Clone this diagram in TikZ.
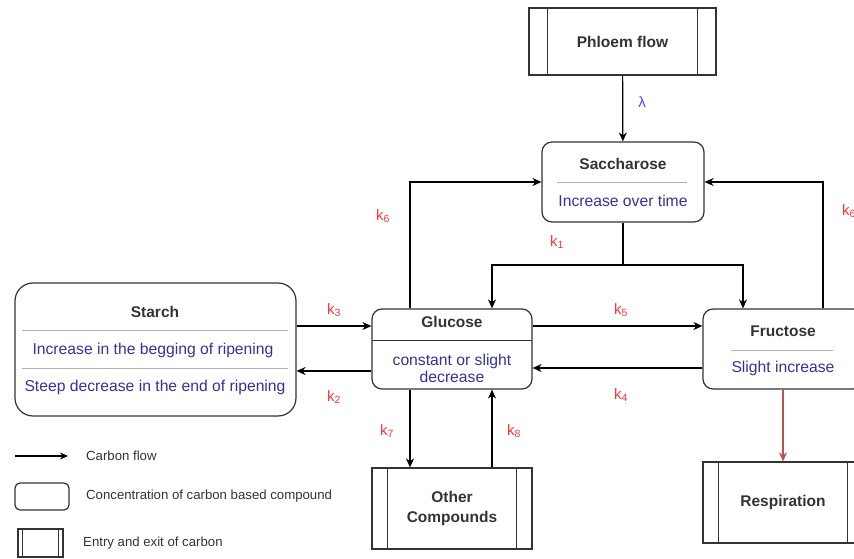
\documentclass[tikz,border=0pt]{standalone}
\usepackage{fontspec}
\setmainfont{Liberation Sans}
\usetikzlibrary{arrows.meta}
\definecolor{txtdark}{HTML}{333333}
\definecolor{txtblue}{HTML}{333399}
\definecolor{lamblue}{HTML}{4C4CFF}
\definecolor{kred}{HTML}{FF3333}
\definecolor{sepgray}{HTML}{B3B3B3}
\definecolor{resred}{HTML}{B85450}
\tikzset{
  box/.style={draw=txtdark, line width=1.2pt, rounded corners=10pt, inner sep=0pt},
  procbox/.style={draw=txtdark, line width=1.2pt, inner sep=0pt, font=\fontsize{15.5}{20}\selectfont\bfseries, text=txtdark, align=center},
  title/.style={font=\fontsize{15.5}{18}\selectfont\bfseries, text=txtdark, inner sep=0pt},
  info/.style={font=\fontsize{15.7}{18}\selectfont, text=txtblue, inner sep=0pt, align=center},
  klabel/.style={font=\fontsize{15}{18}\selectfont, text=kred, inner sep=0pt},
  sep/.style={draw=sepgray, line width=1pt},
  flow/.style={draw=black, line width=1.2pt, -{Stealth[length=9pt,width=8pt]}},
  legtext/.style={font=\fontsize{13.2}{15}\selectfont, text=txtdark, anchor=west, inner sep=0pt},
}
\begin{document}
\begin{tikzpicture}[x=1pt,y=-1pt]
\useasboundingbox (0,0) rectangle (854,559);
% boxes
\node[procbox, minimum width=187pt, minimum height=67pt] (phloem) at (622.5,41.5) {Phloem flow};
\draw[draw=txtdark, line width=1.2pt] ([xshift=19pt]phloem.north west) -- ([xshift=19pt]phloem.south west);
\draw[draw=txtdark, line width=1.2pt] ([xshift=-19pt]phloem.north east) -- ([xshift=-19pt]phloem.south east);

\node[box, minimum width=162pt, minimum height=80pt] (sac) at (623,182) {};
\node[title] (sact) at (623,164) {Saccharose};
\draw[sep] (557,182) -- (687,182);
\node[info] (saci) at (623,201) {Increase over time};

\node[box, rounded corners=18pt, minimum width=281pt, minimum height=133pt] (starch) at (155.5,349.5) {};
\node[title] (starcht) at (155,312) {Starch};
\draw[sep] (22,330) -- (288,330);
\node[info] (starch1) at (153,350) {Increase in the begging of ripening};
\draw[sep] (22,368) -- (288,368);
\node[info] (starch2) at (155,387) {Steep decrease in the end of ripening};

\node[box, minimum width=160pt, minimum height=80pt] (glucose) at (452,349) {};
\node[title] (glut) at (452,322) {Glucose};
\draw[draw=txtdark, line width=1pt] (372,340) -- (532,340);
\node[info] (glui) at (452,368.5) {constant or slight\\[-0.5pt]decrease};

\node[box, minimum width=160pt, minimum height=80pt] (fructose) at (783,349) {};
\node[title] (frut) at (783,331) {Fructose};
\draw[sep] (731,350) -- (833,350);
\node[info] (frui) at (783,368) {Slight increase};

\node[procbox, minimum width=160pt, minimum height=81pt] (other) at (452,508.5) {Other\\Compounds};
\draw[draw=txtdark, line width=1.2pt] ([xshift=16pt]other.north west) -- ([xshift=16pt]other.south west);
\draw[draw=txtdark, line width=1.2pt] ([xshift=-16pt]other.north east) -- ([xshift=-16pt]other.south east);

\node[procbox, minimum width=160pt, minimum height=81pt] (resp) at (783,502.5) {Respiration};
\draw[draw=txtdark, line width=1.2pt] ([xshift=16pt]resp.north west) -- ([xshift=16pt]resp.south west);
\draw[draw=txtdark, line width=1.2pt] ([xshift=-16pt]resp.north east) -- ([xshift=-16pt]resp.south east);

% connectors
\draw[flow] (phloem) -- (sac);
\draw[flow] ([yshift=23.5pt]starch.east) -- ([yshift=23pt]glucose.west);
\draw[flow] ([yshift=-22pt]glucose.west) -- ([yshift=-21.5pt]starch.east);
\draw[flow] ([yshift=23pt]glucose.east) -- ([yshift=23pt]fructose.west);
\draw[flow] ([yshift=-19pt]fructose.west) -- ([yshift=-19pt]glucose.east);
\coordinate (split) at (623,265);
\draw[draw=black, line width=1.2pt] (sac.south) -- (split);
\draw[flow] (split) -| ([xshift=40pt]glucose.north);
\draw[flow] (split) -| ([xshift=-40pt]fructose.north);
\draw[flow] ([xshift=-42pt]glucose.north) |- (sac.west);
\draw[flow] ([xshift=40pt]fructose.north) |- (sac.east);
\draw[flow] ([xshift=-42pt]glucose.south) -- ([xshift=-42pt]other.north);
\draw[flow] ([xshift=40pt]other.north) -- ([xshift=40pt]glucose.south);
\draw[flow, draw=resred] (fructose.south) -- (resp.north);

% labels
\node[font=\fontsize{15}{18}\selectfont, text=lamblue, inner sep=0pt] (lam) at (642,102) {λ};
\node[klabel] (k3) at (334,310) {k\textsubscript{3}};
\node[klabel] (k2) at (334,397) {k\textsubscript{2}};
\node[klabel] (k5) at (621,310) {k\textsubscript{5}};
\node[klabel] (k4) at (621,395) {k\textsubscript{4}};
\node[klabel] (k1) at (557,242) {k\textsubscript{1}};
\node[klabel] (k6a) at (383,216) {k\textsubscript{6}};
\node[klabel, anchor=west] (k6b) at (842,211) {k\textsubscript{6}};
\node[klabel] (k7) at (387,431) {k\textsubscript{7}};
\node[klabel] (k8) at (514,431) {k\textsubscript{8}};

% legend
\coordinate (la) at (15,456);
\coordinate (lb) at (68,456);
\draw[draw=black, line width=1.2pt, -{Stealth[length=8pt,width=7pt]}] (la) -- (lb);
\node[legtext] (l1) at (86,456) {Carbon flow};
\node[draw=txtdark, line width=1.2pt, rounded corners=5pt, minimum width=54pt, minimum height=27pt, inner sep=0pt] (lbox) at (42,496.5) {};
\node[legtext] (l2) at (86,496) {Concentration of carbon based compound};
\node[draw=txtdark, line width=1.2pt, minimum width=45pt, minimum height=28pt, inner sep=0pt] (lproc) at (40.5,543) {};
\draw[draw=txtdark, line width=1.2pt] ([xshift=5pt]lproc.north west) -- ([xshift=5pt]lproc.south west);
\draw[draw=txtdark, line width=1.2pt] ([xshift=-5pt]lproc.north east) -- ([xshift=-5pt]lproc.south east);
\node[legtext] (l3) at (83,543) {Entry and exit of carbon};
\end{tikzpicture}
\end{document}
